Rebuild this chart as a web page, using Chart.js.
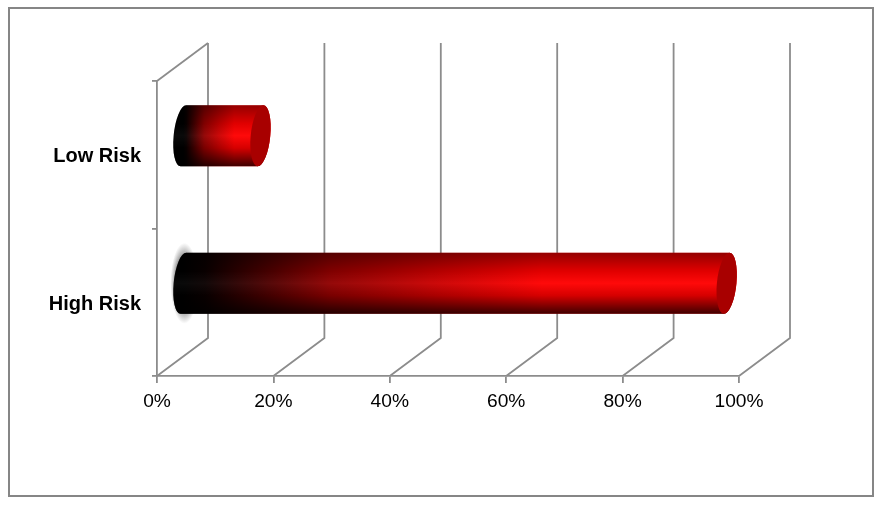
<!DOCTYPE html>
<html>
<head>
<meta charset="utf-8">
<script src="https://cdn.jsdelivr.net/npm/chart.js@4"></script>
<style>
  html, body { margin: 0; padding: 0; background: #fff; }
  #frame { position: absolute; left: 8px; top: 7px; width: 866px; height: 490px; box-sizing: border-box; border: 2px solid #868686; }
  #riskChart { position: absolute; left: 0; top: 0; }
</style>
</head>
<body>
<div id="frame"></div>
<canvas id="riskChart" width="881" height="510"></canvas>
<script>
const categories = ['Low Risk', 'High Risk'];
const riskShare = [13.4, 93.5];
const tickValues = [0, 20, 40, 60, 80, 100];

const gridColor = '#8c8c8c';
const gridWidth = 1.8;
const depthX = 51, depthY = 38;

function capPath(ctx, cx, cy, rx, ry, lean, from, to) {
    ctx.save();
    ctx.translate(cx, cy);
    ctx.transform(1, 0, -lean / ry, 1, 0, 0);
    ctx.ellipse(0, 0, rx, ry, 0, from, to, true);
    ctx.restore();
}

// back wall and floor lines of the fake 3d box
const wallPlugin = {
    id: 'walls',
    beforeDatasetsDraw(chart) {
        const { ctx, scales: { x, y } } = chart;
        const bottom = y.bottom, top = y.top;
        ctx.save();
        ctx.strokeStyle = gridColor;
        ctx.lineWidth = gridWidth;
        tickValues.forEach(v => {
            const px = x.getPixelForValue(v);
            ctx.beginPath();
            ctx.moveTo(px, bottom);
            ctx.lineTo(px + depthX, bottom - depthY);
            ctx.lineTo(px + depthX, top - depthY);
            ctx.stroke();
        });
        ctx.beginPath();
        ctx.moveTo(x.left, top);
        ctx.lineTo(x.left + depthX, top - depthY);
        ctx.stroke();
        ctx.restore();
    }
};

// cylinders sit half way into the box
const cylinderPlugin = {
    id: 'cylinders',
    afterDatasetsDraw(chart) {
        const { ctx } = chart;
        chart.getDatasetMeta(0).data.forEach((bar, i) => {
            const x0 = bar.base + depthX / 2;
            const x1 = bar.x + depthX / 2;
            const cy = bar.y - depthY / 2;
            const ry = bar.height / 2;
            const rx = 9.8, lean = 2.8;

            ctx.save();
            // soft halo behind the start of the long bar
            if (i === 1) {
                ctx.save();
                ctx.translate(x0 + 1, cy);
                ctx.scale(1, (ry + 10) / 14);
                const halo = ctx.createRadialGradient(0, 0, 8, 0, 0, 14);
                halo.addColorStop(0, 'rgba(105,105,105,0.95)');
                halo.addColorStop(1, 'rgba(140,140,140,0)');
                ctx.fillStyle = halo;
                ctx.beginPath();
                ctx.arc(0, 0, 14, 0, Math.PI * 2);
                ctx.fill();
                ctx.restore();
            }

            ctx.beginPath();
            capPath(ctx, x0, cy, rx, ry, lean, -Math.PI / 2, Math.PI / 2);
            capPath(ctx, x1, cy, rx, ry, lean, Math.PI / 2, -Math.PI / 2);
            ctx.closePath();

            const along = ctx.createLinearGradient(x0, 0, x1, 0);
            along.addColorStop(0, '#000000');
            along.addColorStop(0.04, '#0a0000');
            along.addColorStop(0.27, '#900000');
            along.addColorStop(0.47, '#cc0000');
            along.addColorStop(0.66, '#ff0000');
            along.addColorStop(1, '#ff0000');
            ctx.fillStyle = along;
            ctx.fill();

            const across = ctx.createLinearGradient(0, cy - ry, 0, cy + ry);
            across.addColorStop(0, 'rgba(0,0,0,0.42)');
            across.addColorStop(0.3, 'rgba(0,0,0,0.12)');
            across.addColorStop(0.5, 'rgba(0,0,0,0)');
            across.addColorStop(0.7, 'rgba(0,0,0,0.16)');
            across.addColorStop(1, 'rgba(0,0,0,0.75)');
            ctx.fillStyle = across;
            ctx.fill();

            const shine = ctx.createLinearGradient(0, cy - ry, 0, cy + ry);
            shine.addColorStop(0.3, 'rgba(255,255,255,0)');
            shine.addColorStop(0.5, 'rgba(255,255,255,0.04)');
            shine.addColorStop(0.7, 'rgba(255,255,255,0)');
            ctx.fillStyle = shine;
            ctx.fill();

            ctx.beginPath();
            capPath(ctx, x1, cy, rx, ry, lean, 0, Math.PI * 2);
            ctx.fillStyle = '#a80000';
            ctx.fill();
            ctx.restore();
        });
    }
};

new Chart(document.getElementById('riskChart'), {
    type: 'bar',
    data: {
        labels: categories,
        datasets: [{
            data: riskShare,
            backgroundColor: 'rgba(0,0,0,0)',
            categoryPercentage: 1,
            barPercentage: 0.413
        }]
    },
    options: {
        indexAxis: 'y',
        responsive: false,
        animation: false,
        layout: { padding: { top: 81, right: 142, left: 0, bottom: 0 } },
        plugins: { legend: { display: false }, tooltip: { enabled: false } },
        scales: {
            x: {
                min: 0,
                max: 100,
                afterFit(scale) { scale.height = 134; },
                afterBuildTicks(scale) { scale.ticks = tickValues.map(value => ({ value })); },
                grid: { color: gridColor, lineWidth: gridWidth, drawOnChartArea: false, tickLength: 7 },
                border: { color: gridColor, width: gridWidth },
                ticks: {
                    color: '#000',
                    padding: 7,
                    maxRotation: 0,
                    font: { family: '"Liberation Sans", Arial, sans-serif', size: 19.2 },
                    callback: v => v + '%'
                }
            },
            y: {
                afterFit(scale) { scale.width = 157; },
                grid: { color: gridColor, lineWidth: gridWidth, drawOnChartArea: false, tickLength: 5 },
                border: { color: gridColor, width: gridWidth },
                ticks: {
                    color: '#000',
                    padding: 11,
                    labelOffset: 2,
                    font: { family: '"Liberation Sans", Arial, sans-serif', size: 20, weight: 'bold' }
                }
            }
        }
    },
    plugins: [wallPlugin, cylinderPlugin]
});
</script>
</body>
</html>
